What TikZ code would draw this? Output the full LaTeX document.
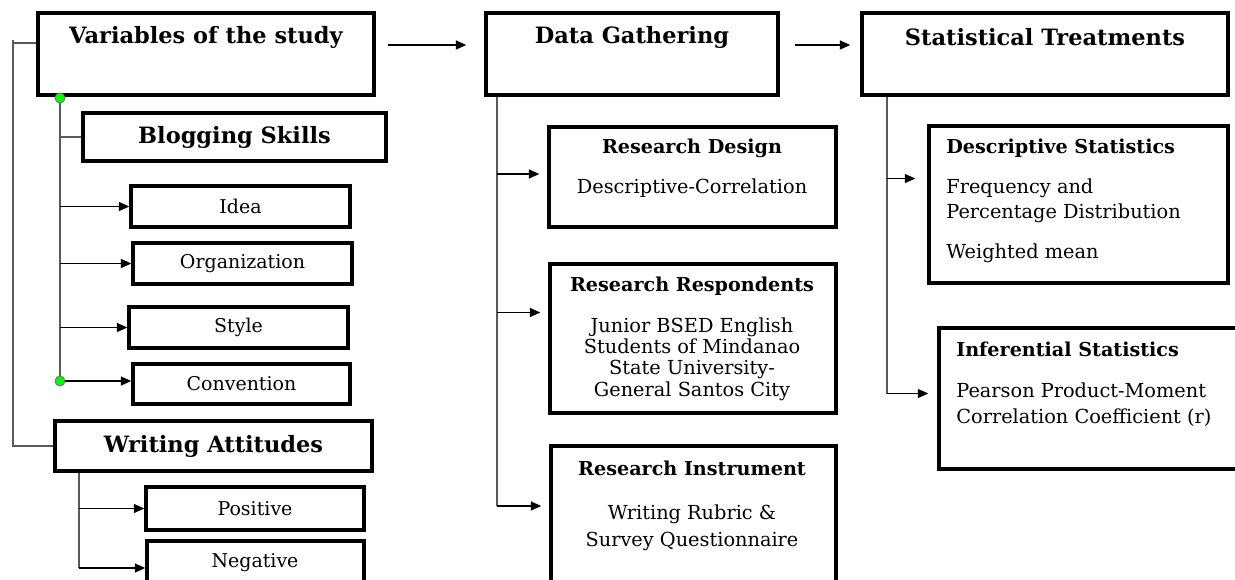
\documentclass[tikz,border=0pt]{standalone}
\usepackage{fontspec}
\setmainfont{DejaVu Serif}
\usetikzlibrary{fit,calc,arrows.meta}
\begin{document}
\begin{tikzpicture}[x=0.02cm,y=-0.02cm,
  box/.style={draw, rectangle, line width=1.8pt, inner sep=0pt},
  link/.style={draw=black!65, line width=1.2pt},
  arr/.style={draw=black, line width=1.1pt, -{Triangle[length=6pt,width=5pt]}},
  hub/.style={circle, fill=green, draw=black!55, line width=0.5pt, inner sep=0pt, minimum size=0.2cm},
  head/.style={font=\bfseries\fontsize{12.8}{15}\selectfont, inner sep=0pt},
  sub/.style={font=\bfseries\fontsize{10.9}{13}\selectfont, inner sep=0pt},
  body/.style={font=\fontsize{11}{12.1}\selectfont, inner sep=0pt, align=center},
  item/.style={font=\fontsize{10.8}{13}\selectfont, inner sep=0pt}]
\useasboundingbox (0,0) rectangle (1235,579);
\clip (0,0) rectangle (1235,579);

% top row
\node[box, fit={(38,13)(374,95)}] (var) {};
\node[head] (varT) at (206,37) {Variables of the study};
\node[box, fit={(486,13)(778,95)}] (dg) {};
\node[head] (dgT) at (632,37) {Data Gathering};
\node[box, fit={(862,13)(1228,95)}] (st) {};
\node[head] (stT) at (1045,37) {Statistical Treatments};

% variables of the study
\node[box, fit={(83,113)(386,161)}] (bs) {};
\node[head] (bsT) at (bs.center) {Blogging Skills};
\node[box, fit={(131,186)(350,227)}] (idea) {};
\node[item] (ideaT) at (idea.center) {Idea};
\node[box, fit={(133,243)(352,284)}] (org) {};
\node[item] (orgT) at (org.center) {Organization};
\node[box, fit={(129,307)(348,348)}] (sty) {};
\node[item] (styT) at (sty.center) {Style};
\node[box, fit={(133,364)(350,404)}] (conv) {};
\node[item] (convT) at (conv.center) {Convention};
\node[box, fit={(55,421)(372,471)}] (wa) {};
\node[head] (waT) at (wa.center) {Writing Attitudes};
\node[box, fit={(146,487)(364,530)}] (pos) {};
\node[item] (posT) at (pos.center) {Positive};
\node[box, fit={(147,541)(364,595)}] (neg) {};
\node[item] (negT) at (255,563) {Negative};

% data gathering
\node[box, fit={(549,127)(836,227)}] (rd) {};
\node[sub] (rdT) at (692,148) {Research Design};
\node[body] (rdB) at (692,188) {Descriptive-Correlation};
\node[box, fit={(550,264)(836,413)}] (rr) {};
\node[sub] (rrT) at (692,286) {Research Respondents};
\node[body] (rrB) at (692,359) {Junior BSED English\\Students of Mindanao\\State University-\\General Santos City};
\node[box, fit={(551,446)(836,600)}] (ri) {};
\node[sub] (riT) at (692,468) {Research Instrument};
\node[body] (riB1) at (692,514) {Writing Rubric \&};
\node[body] (riB2) at (692,541) {Survey Questionnaire};

% statistical treatments
\node[box, fit={(929,126)(1228,283)}] (ds) {};
\node[sub, anchor=west] (dsT) at (946,148) {Descriptive Statistics};
\node[body, align=left, anchor=west, font=\fontsize{11}{14.2}\selectfont] (dsB) at (946,200.5) {Frequency and\\Percentage Distribution};
\node[body, anchor=west] (dsW) at (946,253) {Weighted mean};
\node[box, fit={(939,328)(1245,469)}] (is) {};
\node[sub, anchor=west] (isT) at (956,349) {Inferential Statistics};
\node[body, align=left, anchor=west, font=\fontsize{11}{14.7}\selectfont] (isB) at (956,405) {Pearson Product-Moment\\Correlation Coefficient (r)};

% connectors between the top row
\draw[arr] ($(var.east)+(12,-9)$) -- ($(dg.west)+(-18,-9)$);
\draw[arr] ($(dg.east)+(15,-9)$) -- ($(st.west)+(-10,-9)$);

% outer bracket on the left
\coordinate (L) at (13,40);
\coordinate (vj) at ($(var.west)+(0,-11)$);
\draw[link] (vj) -- (vj -| L);
\draw[link] (L) -- (L |- wa.west) -- (wa.west);

% blogging skills branch
\coordinate (h1) at (60,98);
\coordinate (h2) at (60,381);
\draw[link] (h1) -- (h2);
\draw[link] (h1 |- bs.west) -- (bs.west);
\draw[arr] (h1 |- idea.west) -- (idea.west);
\draw[arr] (h1 |- org.west) -- (org.west);
\draw[arr] (h1 |- sty.west) -- (sty.west);
\draw[arr] (h2) -- (h2 -| conv.west);
\node[hub] (hub1) at (h1) {};
\node[hub] (hub2) at (h2) {};

% writing attitudes branch
\coordinate (wt) at ($(wa.south west)+(26,0)$);
\draw[link] (wt) -- (wt |- neg.west);
\draw[arr] (wt |- pos.west) -- (pos.west);
\draw[arr] (wt |- neg.west) -- (neg.west);

% data gathering branch
\coordinate (dt) at ($(dg.south west)+(13,0)$);
\coordinate (rdIn) at ($(rd.west)+(-8,-3)$);
\coordinate (rrIn) at ($(rr.west)+(-8,-26)$);
\coordinate (riIn) at (ri.west |- 0,506);
\coordinate (riIn2) at ($(riIn)+(-8,0)$);
\draw[link] (dt) -- (dt |- riIn);
\draw[arr] (dt |- rdIn) -- (rdIn);
\draw[arr] (dt |- rrIn) -- (rrIn);
\draw[arr] (dt |- riIn2) -- (riIn2);

% statistical treatments branch
\coordinate (sb) at ($(st.south west)+(27,0)$);
\coordinate (dsIn) at ($(ds.west)+(-12,-26)$);
\coordinate (isIn) at ($(is.west)+(-9,-5)$);
\draw[link] (sb) -- (sb |- isIn);
\draw[arr] (sb |- dsIn) -- (dsIn);
\draw[arr] (sb |- isIn) -- (isIn);
\end{tikzpicture}
\end{document}
